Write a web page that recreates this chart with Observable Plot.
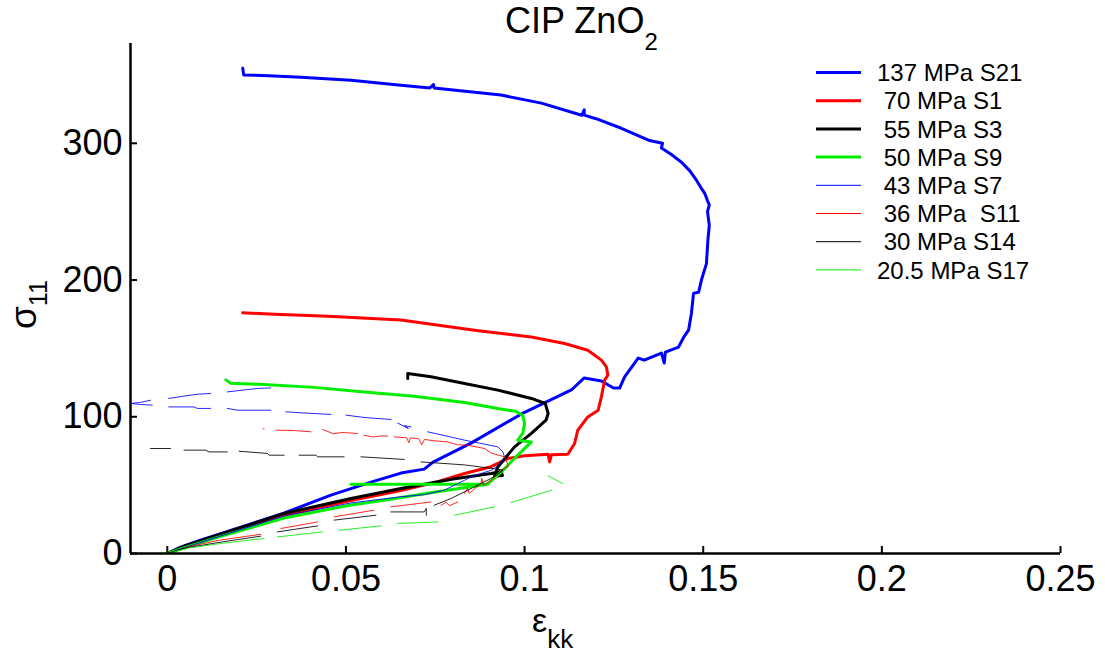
<!DOCTYPE html>
<html>
<head>
<meta charset="utf-8">
<script src="https://cdn.jsdelivr.net/npm/d3@7"></script>
<script src="https://cdn.jsdelivr.net/npm/@observablehq/plot@0.6"></script>
<style>
  html, body { margin: 0; padding: 0; background: #fff; }
  svg text.pre { white-space: pre; }
</style>
</head>
<body>
<div id="chart"></div>
<script>
// ---------- data (ε_kk, σ11); NaN pairs mark gaps in the recording ----------
const G = [NaN, NaN];

const seriesNames = ["137 MPa S21", " 70 MPa S1", " 55 MPa S3", " 50 MPa S9",
                     " 43 MPa S7", " 36 MPa  S11", " 30 MPa S14", "20.5 MPa S17"];
const seriesColors = ["#0000ff", "#ff0000", "#000000", "#00ee00",
                      "#0000ff", "#ff0000", "#000000", "#00ee00"];
const seriesWidths = [3, 3, 3, 3, 1, 1, 1, 1];

const xTicks = [0, 0.05, 0.1, 0.15, 0.2, 0.25];
const yTicks = [0, 100, 200, 300];
const xDomain = [-0.0103, 0.25];
const yDomain = [0, 373];

const s21 = [[0,0],[0.0037,4.6],[0.0093,9.7],[0.0206,19.2],[0.0326,29.5],[0.0458,42.7],[0.057,52.2],
  [0.0654,58.8],[0.0719,61.7],[0.0744,66.8],[0.085,80.7],[0.099,101.9],[0.1131,119.6],[0.1167,128.4],
  [0.1215,126.2],[0.1249,121.0],[0.1266,121.0],[0.128,129.1],[0.1318,142.9],[0.1335,141.4],[0.1383,146.6],
  [0.1391,139.3],[0.1394,147.3],[0.1431,151.0],[0.1445,158],[0.1459,163.3],[0.1467,175.7],[0.1473,190.4],
  [0.1487,191],[0.1495,200],[0.1509,212],[0.1513,229],[0.1517,240],[0.1512,250],[0.1517,255],[0.1512,258],
  [0.1505,263],[0.1495,267],[0.1481,273],[0.1462,280],[0.1440,286],[0.1410,292],[0.1383,296.5],[0.1386,300],
  [0.135,302],[0.1271,311],[0.12,318],[0.1167,320.6],[0.1167,324.5],[0.116,320.5],[0.1047,329.4],
  [0.0934,335.3],[0.08,339],[0.0747,340.4],[0.0745,343],[0.0735,340.5],[0.0654,342.5],[0.0514,346.2],
  [0.0374,348.4],[0.0284,349.5],[0.0214,350],[0.0211,355]];

const s1 = [[0,0],[0.005,5],[0.014,12.5],[0.0327,27.8],[0.0514,38.8],[0.0654,46],[0.075,52],[0.0832,58.5],
  [0.0906,63.5],[0.0953,69.5],[0.1,71.5],[0.1066,72.6],[0.107,67],[0.1075,72.2],[0.1121,72.6],[0.114,80.5],
  [0.1149,90.2],[0.1177,99.9],[0.1206,104.8],[0.1215,114.6],[0.1224,126.8],[0.1233,130.4],[0.1229,136.5],
  [0.1215,141.4],[0.1177,148.7],[0.1112,153.6],[0.1019,158.4],[0.086,163.3],[0.0654,170.7],[0.045,173.5],
  [0.03,175],[0.0211,176]];

const s3 = [[0,0],[0.005,5.5],[0.014,13.4],[0.0327,29.3],[0.0514,40.2],[0.0654,47.5],[0.08,54.5],
  [0.0906,58.5],[0.0935,60],[0.0938,57],[0.0916,56.5],[0.0925,63.3],[0.0972,78],[0.1019,87.8],[0.106,97.5],
  [0.1066,102.4],[0.1058,109.7],[0.1019,113.4],[0.0925,119.5],[0.0832,124.4],[0.0738,129.2],[0.0673,131.7],
  [0.0673,128]];

const s9 = [[0,0],[0.005,4.5],[0.014,11.8],[0.0327,26],[0.0514,35.5],[0.0607,39],[0.075,45],[0.0897,50.7],
  [0.0514,50.7],[0.0897,50.7],[0.0906,53],[0.0944,62],[0.0981,72],[0.1019,81.6],[0.0981,82.9],[0.0995,88],
  [0.1,95],[0.0995,101],[0.0975,104],[0.0925,106],[0.0832,110.5],[0.0691,115],[0.0551,118.2],[0.0411,121.5],
  [0.0271,123.6],[0.0177,124.6],[0.0164,127]];

const s7 = [[0,0],[0.005,4.5],[0.014,12],[0.0327,27.5],[0.0514,37],[0.0654,41.5],[0.072,43],[0.0775,46.3],
  [0.0832,53.6],[0.085,56],[0.0878,58.5],[0.0906,60.8],[0.093,65],[0.0944,70.7],[0.0939,74.3],[0.0925,78],
  [0.0878,80.5],[0.0832,82.9],[0.0729,89],G,[0.0682,92.6],[0.0664,93.5],[0.0675,91.5],[0.0645,95.3],G,
  [0.0626,98],[0.0551,99.5],[0.05,101.2],G,[0.0458,101.7],[0.0374,102.9],[0.0332,103.6],G,
  [0.029,104.8],[0.0196,104.8],[0.0168,106.1],G,[0.0121,106.1],[0.0084,106.1],[0.0075,107.2],[0.0004,107.2],G,
  [-0.0042,108.5],[-0.0075,109],[-0.0103,109.7],[-0.0075,110.5],[-0.0047,112.1],G,
  [0.0004,113.4],[0.0047,115.1],[0.0084,116.5],[0.0121,117],G,[0.0168,118.2],[0.0252,120.7],[0.029,121.1]];

const s11 = [[0,0],[0.007,5.5],[0.0145,9.7],[0.0262,14.1],G,[0.0318,18.3],[0.0421,23.1],G,
  [0.0467,26.8],[0.0579,31.7],G,[0.0626,34.1],[0.0738,37.7],G,[0.0766,35.3],[0.078,37.5],[0.079,35],
  [0.0813,37.7],G,[0.0832,43.9],[0.084,47.5],[0.0845,44],[0.0878,51.2],[0.088,55],[0.0885,50],
  [0.0906,53.6],[0.0925,58],[0.094,62],[0.0955,64],[0.0944,70.7],[0.0906,73.5],[0.0888,76.8],
  [0.0841,79.2],[0.0813,79.5],[0.0785,81.6],[0.0745,82.5],[0.072,83.4],[0.0712,79.5],[0.0705,83.6],
  [0.0701,84.1],[0.068,84.5],[0.0676,81],[0.067,84.6],[0.0635,85.3],G,[0.0617,85.8],[0.06,86],
  [0.0575,85.2],[0.0551,86.5],G,[0.0533,87.8],[0.049,88.5],[0.0465,87.6],[0.0435,90.7],G,
  [0.0402,89],[0.035,90],[0.0304,90.2],G,[0.0271,91.2],[0.0268,91.2]];

const s14 = [[0,0],[0.005,4],[0.0154,8.5],[0.0262,12.7],G,[0.0308,15.8],[0.0421,20.2],G,
  [0.0467,24.4],[0.0584,28],G,[0.0626,30.4],[0.0719,30.4],[0.0725,33],[0.0725,28],G,
  [0.0747,35.3],[0.0794,40.2],[0.0841,46.3],[0.0906,54.9],[0.0925,58],[0.094,61],[0.0915,62],
  [0.0832,64.8],[0.071,67],G,[0.0663,68.8],[0.0542,70.7],G,[0.0495,70.7],[0.0421,70.7],[0.0416,71.9],
  [0.0369,71.9],G,[0.0327,71.9],[0.0285,71.9],[0.028,73.2],[0.0201,74.8],G,[0.0168,74.3],[0.0117,74.3],
  [0.0107,75.6],[0.0047,75.6],G,[0.0009,76.8],[-0.0047,76.8]];

const s17 = [[0,0],[0.006,4],[0.0149,7.3],[0.0271,11],G,[0.0308,12.1],[0.0435,15.8],G,
  [0.0481,17],[0.0598,20.2],G,[0.0645,22],[0.0757,23.1],G,[0.0804,28],[0.0916,34.1],G,
  [0.0962,37.3],[0.1075,46.3],G,[0.1065,56.8],[0.1107,51.2]];

const seriesData = [s21, s1, s3, s9, s7, s11, s14, s17];

// ---------- chart ----------
const W = 1105, H = 655;
const mL = 130, mR = 45, mT = 43, mB = 102;

const lineMarks = seriesData.map((d, i) =>
  Plot.line(d, {x: p => p[0], y: p => p[1], stroke: seriesColors[i],
    strokeWidth: seriesWidths[i], strokeOpacity: i >= 4 ? 0.85 : 1,
    strokeLinejoin: "round", clip: true}));

const chart = Plot.plot({
  width: W, height: H,
  marginLeft: mL, marginRight: mR, marginTop: mT, marginBottom: mB,
  x: {domain: xDomain},
  y: {domain: yDomain},
  style: {fontFamily: "'Liberation Sans', Arial, Helvetica, sans-serif", background: "#fff", color: "#000", overflow: "visible"},
  marks: [
    Plot.axisX({ticks: xTicks, tickSize: 0, tickPadding: 12, fontSize: 36, label: null, tickFormat: d => String(d)}),
    Plot.axisY({ticks: yTicks, tickSize: 0, tickPadding: 8, fontSize: 36, label: null, tickFormat: d => String(d)}),
    Plot.tickX(xTicks, {x: d => d, insetTop: H - mT - mB - 7, strokeWidth: 2}),
    Plot.tickY(yTicks, {y: d => d, insetRight: W - mL - mR - 7, strokeWidth: 2}),
    ...lineMarks,
    Plot.ruleY([yDomain[0]], {strokeWidth: 2.5}),
    Plot.ruleX([xDomain[0]], {strokeWidth: 2.5})
  ]
});

document.getElementById("chart").appendChild(chart);

const svg = d3.select(chart);
const ff = "'Liberation Sans', Arial, Helvetica, sans-serif";
const extra = svg.append("g").attr("text-anchor", "start").attr("font-family", ff).attr("fill", "#000");

// title
const t = extra.append("text").attr("x", 505).attr("y", 33).attr("font-size", 36);
t.append("tspan").text("CIP ZnO");
t.append("tspan").attr("dy", 17).attr("font-size", 24).text("2");

// x label
const xl = extra.append("text").attr("x", 532).attr("y", 632).attr("font-size", 34);
xl.append("tspan").text("ε");
xl.append("tspan").attr("dy", 16).attr("font-size", 26).text("kk");

// y label
const yl = extra.append("text").attr("transform", "translate(36,329) rotate(-90)").attr("font-size", 37);
yl.append("tspan").text("σ");
yl.append("tspan").attr("dy", 11).attr("font-size", 25).text("11");

// legend
const lg = extra.append("g").attr("font-size", 24);
seriesNames.forEach((name, i) => {
  const y = 72.5 + i * 28.2;
  lg.append("line").attr("x1", 816).attr("x2", 861).attr("y1", y).attr("y2", y)
    .attr("stroke", seriesColors[i]).attr("stroke-width", seriesWidths[i]);
  lg.append("text").attr("class", "pre").attr("x", 877).attr("y", y).attr("dy", "0.36em")
    .attr("xml:space", "preserve").text(name);
});
</script>
</body>
</html>
